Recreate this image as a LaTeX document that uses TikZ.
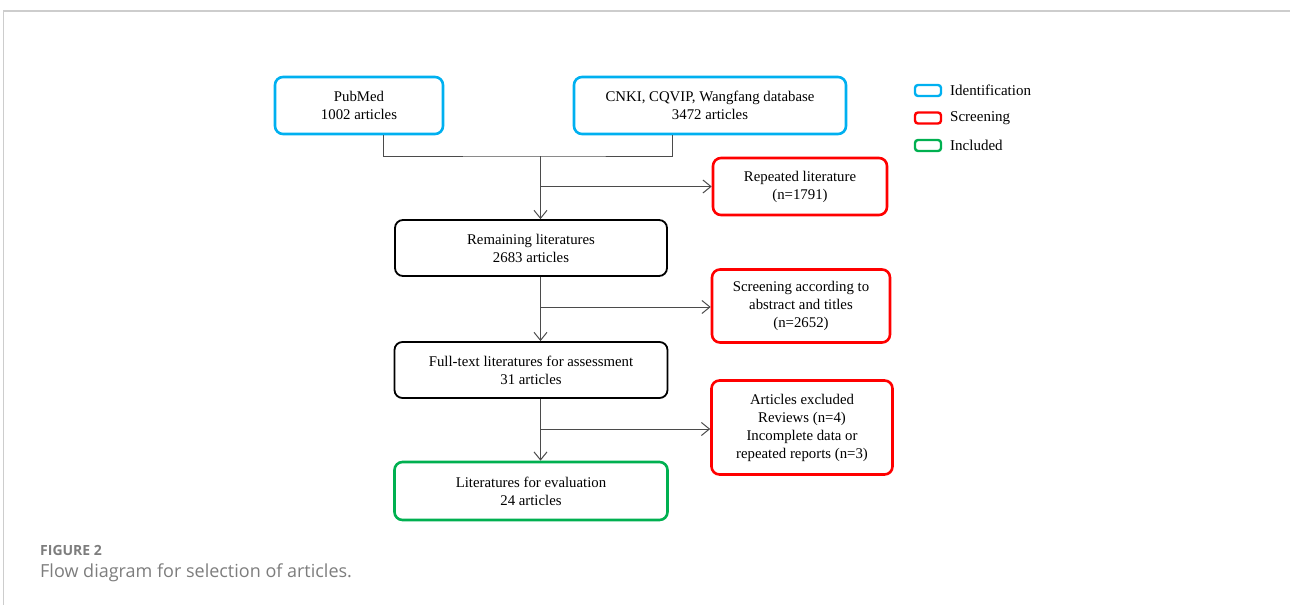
\documentclass[tikz,border=0pt]{standalone}
\usepackage{fontspec}
\setmainfont{Liberation Serif}
\newfontfamily\capfont{Open Sans}
\usetikzlibrary{arrows.meta,calc}
\definecolor{idblue}{RGB}{0,176,240}
\definecolor{scrred}{RGB}{255,0,0}
\definecolor{incgreen}{RGB}{0,176,80}
\definecolor{linegray}{RGB}{75,75,75}
\definecolor{capgray}{RGB}{125,125,125}
\definecolor{framegray}{RGB}{205,205,205}
\tikzset{
  box/.style={draw, rounded corners=8pt, align=center, inner sep=0pt,
    font=\fontsize{14.8}{18}\selectfont, text=black},
  idbox/.style={box, draw=idblue, line width=2.6pt},
  scrbox/.style={box, draw=scrred, line width=2.6pt},
  incbox/.style={box, draw=incgreen, line width=2.6pt},
  blkbox/.style={box, draw=black, line width=1.8pt},
  conn/.style={draw=linegray, line width=1pt},
  arr/.style={conn, -{Straight Barb[length=8pt,width=13pt,line width=1pt]}},
  legbox/.style={draw, rounded corners=3pt, line width=2.4pt, minimum width=26pt, minimum height=11pt, inner sep=0pt},
  legtext/.style={anchor=west, font=\fontsize{15}{17}\selectfont, inner sep=0pt}
}
\begin{document}
\begin{tikzpicture}[x=1pt,y=-1pt]
\useasboundingbox (0,0) rectangle (1290,605);
% frame
\draw[framegray, line width=2pt] (3,11) -- (1290,11);
\draw[framegray, line width=1pt] (3.5,11) -- (3.5,605);

% boxes
\node[idbox, minimum width=168pt, minimum height=57pt] (pub) at (359,105.5) {PubMed\\1002 articles};
\node[idbox, minimum width=272pt, minimum height=57pt] (cnki) at (710,105.5) {CNKI, CQVIP, Wangfang database\\3472 articles};
\node[scrbox, minimum width=174pt, minimum height=57pt] (rep) at (800,186.5) {Repeated literature\\(n=1791)};
\node[blkbox, minimum width=272pt, minimum height=56pt] (rem) at (531,248) {Remaining literatures\\2683 articles};
\node[scrbox, minimum width=178pt, minimum height=73pt] (scr) at (801,306) {Screening according to\\abstract and titles\\(n=2652)};
\node[blkbox, minimum width=273pt, minimum height=56pt] (full) at (531,370) {Full-text literatures for assessment\\31 articles};
\node[scrbox, minimum width=181pt, minimum height=94pt] (excl) at (802,427.5) {Articles excluded\\Reviews (n=4)\\Incomplete data or\\repeated reports (n=3)};
\node[incbox, minimum width=273pt, minimum height=58pt] (eval) at (531,491) {Literatures for evaluation\\24 articles};

% connectors
\coordinate (j) at (540.5,156);
\draw[conn] ([xshift=24pt]pub.south) |- (j) -| ([xshift=-37.5pt]cnki.south);
\draw[arr] (j) -- (j |- rem.north);
\draw[arr] (j |- rep.west) -- (rep.west);
\draw[arr] (j |- rem.south) -- (j |- full.north);
\draw[arr] ($(j |- scr.west)+(0,1)$) -- ($(scr.west)+(0,1)$);
\draw[arr] (j |- full.south) -- (j |- eval.north);
\draw[arr] ($(j |- excl.west)+(0,1.5)$) -- ($(excl.west)+(0,1.5)$);

% legend
\node[legbox, draw=idblue] (l1) at (928,90.5) {};
\node[legtext] (t1) at (950,90.5) {Identification};
\node[legbox, draw=scrred] (l2) at (928,118) {};
\node[legtext] (t2) at (950,118) {Screening};
\node[legbox, draw=incgreen] (l3) at (928,145.5) {};
\node[legtext] (t3) at (950,145.5) {Included};

% caption
\node[anchor=base west, inner sep=0pt, text=capgray, font=\capfont\fontsize{14}{16}\selectfont\bfseries] (fig) at (40,555) {FIGURE 2};
\node[anchor=base west, inner sep=0pt, text=capgray, font=\capfont\fontsize{18}{20}\selectfont] (cap) at (40,577) {Flow diagram for selection of articles.};
\end{tikzpicture}
\end{document}
